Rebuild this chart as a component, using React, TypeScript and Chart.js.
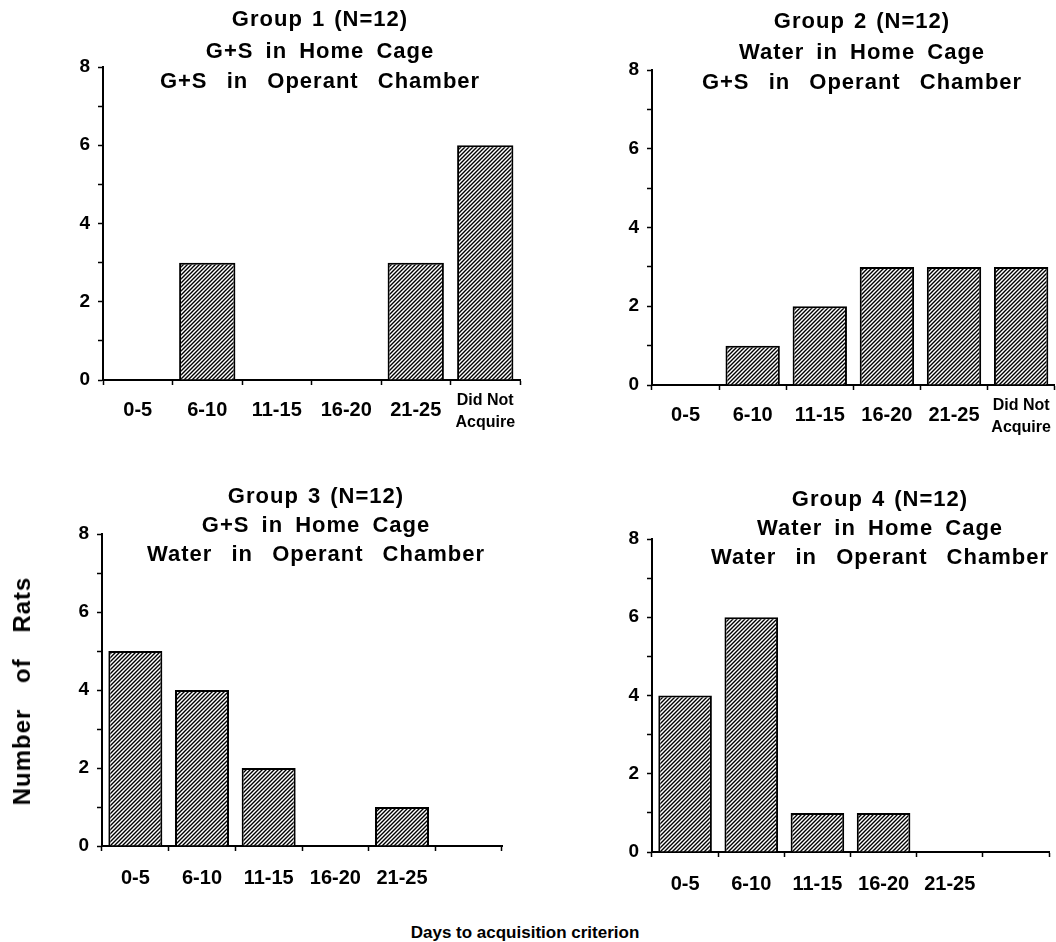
import React, { useEffect, useRef } from 'react';
import { Chart, registerables } from 'chart.js';

Chart.register(...registerables);

// ---------- data ----------
const categoriesWithDNA: (string | string[])[] = ['0-5', '6-10', '11-15', '16-20', '21-25', ['Did Not', 'Acquire']];
const categoriesNoDNA: (string | string[])[] = ['0-5', '6-10', '11-15', '16-20', '21-25', ''];

const group1Values = [0, 3, 0, 0, 3, 6];
const group2Values = [0, 1, 2, 3, 3, 3];
const group3Values = [5, 4, 2, 0, 1, 0];
const group4Values = [4, 6, 1, 1, 0, 0];

const yTickLabels = ['0', '', '2', '', '4', '', '6', '', '8'];

const group1Title = ['Group 1 (N=12)', 'G+S in Home Cage', 'G+S in Operant Chamber'];
const group2Title = ['Group 2 (N=12)', 'Water in Home Cage', 'G+S in Operant Chamber'];
const group3Title = ['Group 3 (N=12)', 'G+S in Home Cage', 'Water in Operant Chamber'];
const group4Title = ['Group 4 (N=12)', 'Water in Home Cage', 'Water in Operant Chamber'];

const yAxisTitle = 'Number of Rats';
const xAxisTitle = 'Days to acquisition criterion';

// ---------- layout ----------
type Layout = {
  left: number; top: number; width: number; height: number;
  areaLeft: number; areaTop: number; areaRight: number; areaBottom: number;
  titleX: number; titleY: number[]; labelPad: number;
};

const layout1: Layout = { left: 0, top: 0, width: 528, height: 440, areaLeft: 103, areaTop: 67, areaRight: 520, areaBottom: 380, titleX: 320, titleY: [20, 52, 82], labelPad: 5 };
const layout2: Layout = { left: 528, top: 0, width: 528, height: 440, areaLeft: 124, areaTop: 70, areaRight: 527, areaBottom: 385, titleX: 334, titleY: [22, 53, 83], labelPad: 5 };
const layout3: Layout = { left: 0, top: 440, width: 528, height: 460, areaLeft: 102, areaTop: 94, areaRight: 502, areaBottom: 406, titleX: 316, titleY: [57, 86, 115], labelPad: 7 };
const layout4: Layout = { left: 528, top: 440, width: 528, height: 460, areaLeft: 124, areaTop: 99, areaRight: 521, areaBottom: 412, titleX: 352, titleY: [60, 89, 118], labelPad: 7 };

const FONT = '"Liberation Sans", Arial, Helvetica, sans-serif';
const titleWordSpacing = [2, 5, 12];

const titlePlugin = {
  id: 'panelTitle',
  afterDraw(chart: any, _args: any, opts: any) {
    const ctx = chart.ctx as CanvasRenderingContext2D;
    ctx.save();
    ctx.fillStyle = '#000';
    ctx.font = `bold 22px ${FONT}`;
    ctx.textAlign = 'center';
    ctx.textBaseline = 'middle';
    (opts.lines as string[]).forEach((line, i) => {
      (ctx as any).letterSpacing = '1px';
      (ctx as any).wordSpacing = `${titleWordSpacing[i]}px`;
      ctx.fillText(line, opts.x, opts.y[i]);
    });
    ctx.restore();
  },
};

function makeHatch(): CanvasPattern | string {
  const c = document.createElement('canvas');
  c.width = 4;
  c.height = 4;
  const g = c.getContext('2d');
  if (!g) return '#888';
  g.fillStyle = '#fff';
  g.fillRect(0, 0, 4, 4);
  g.strokeStyle = '#000';
  g.lineWidth = 1.4;
  g.beginPath();
  g.moveTo(-1, 5); g.lineTo(5, -1);
  g.moveTo(-1, 1); g.lineTo(1, -1);
  g.moveTo(3, 5); g.lineTo(5, 3);
  g.stroke();
  return g.createPattern(c, 'repeat') || '#888';
}

function Panel({ layout, labels, values, title }: { layout: Layout; labels: (string | string[])[]; values: number[]; title: string[] }) {
  const ref = useRef<HTMLCanvasElement>(null);
  useEffect(() => {
    const canvas = ref.current;
    if (!canvas) return;
    const hatch = makeHatch();
    const chart = new Chart(canvas, {
      type: 'bar',
      data: {
        labels: labels as any,
        datasets: [
          {
            data: values,
            backgroundColor: hatch as any,
            borderColor: '#000',
            borderWidth: 2,
            barPercentage: 0.81,
            categoryPercentage: 1,
          },
        ],
      },
      plugins: [titlePlugin as any],
      options: {
        responsive: false,
        animation: false,
        events: [],
        layout: {
          padding: { left: 0, top: layout.areaTop, right: layout.width - layout.areaRight, bottom: 0 },
        },
        plugins: {
          legend: { display: false },
          tooltip: { enabled: false },
          title: { display: false },
          panelTitle: { lines: title, x: layout.titleX, y: layout.titleY },
        } as any,
        scales: {
          x: {
            type: 'category',
            afterFit: (s: any) => { s.height = layout.height - layout.areaBottom; },
            grid: { drawOnChartArea: false, drawTicks: true, tickLength: 5, tickColor: '#000', tickWidth: 1.5, offset: true },
            border: { display: true, color: '#000', width: 2 },
            ticks: {
              color: '#000',
              autoSkip: false,
              maxRotation: 0,
              minRotation: 0,
              padding: layout.labelPad,
              font: (ctx: any) =>
                ctx.index === 5
                  ? { family: FONT, size: 16, weight: 'bold', lineHeight: 22 / 16 }
                  : { family: FONT, size: 20, weight: 'bold', lineHeight: 2 },
            },
          },
          y: {
            min: 0,
            max: 8,
            afterFit: (s: any) => { s.width = layout.areaLeft; },
            grid: { drawOnChartArea: false, drawTicks: true, tickLength: 5, tickColor: '#000', tickWidth: 1.5 },
            border: { display: true, color: '#000', width: 2 },
            ticks: {
              stepSize: 1,
              color: '#000',
              padding: 8,
              font: { family: FONT, size: 19, weight: 'bold' },
              callback: (_v: any, i: number) => yTickLabels[i] ?? '',
            },
          },
        },
      },
    });
    return () => chart.destroy();
  }, []);
  return (
    <canvas
      ref={ref}
      width={layout.width}
      height={layout.height}
      style={{ position: 'absolute', left: layout.left, top: layout.top, width: layout.width, height: layout.height }}
    />
  );
}

export default function App() {
  return (
    <div style={{ position: 'absolute', left: 0, top: 0, width: 1056, height: 942, background: '#fff', overflow: 'hidden', fontFamily: FONT, color: '#000' }}>
      <Panel layout={layout1} labels={categoriesWithDNA} values={group1Values} title={group1Title} />
      <Panel layout={layout2} labels={categoriesWithDNA} values={group2Values} title={group2Title} />
      <Panel layout={layout3} labels={categoriesNoDNA} values={group3Values} title={group3Title} />
      <Panel layout={layout4} labels={categoriesNoDNA} values={group4Values} title={group4Title} />
      <div
        style={{
          position: 'absolute', left: 22, top: 691, transform: 'translate(-50%, -50%) rotate(-90deg)',
          whiteSpace: 'nowrap', fontWeight: 'bold', fontSize: 24, letterSpacing: 1, wordSpacing: 18, lineHeight: 1,
        }}
      >
        {yAxisTitle}
      </div>
      <div
        style={{
          position: 'absolute', left: 525, top: 932, transform: 'translate(-50%, -50%)',
          whiteSpace: 'nowrap', fontWeight: 'bold', fontSize: 17, lineHeight: 1,
        }}
      >
        {xAxisTitle}
      </div>
    </div>
  );
}
